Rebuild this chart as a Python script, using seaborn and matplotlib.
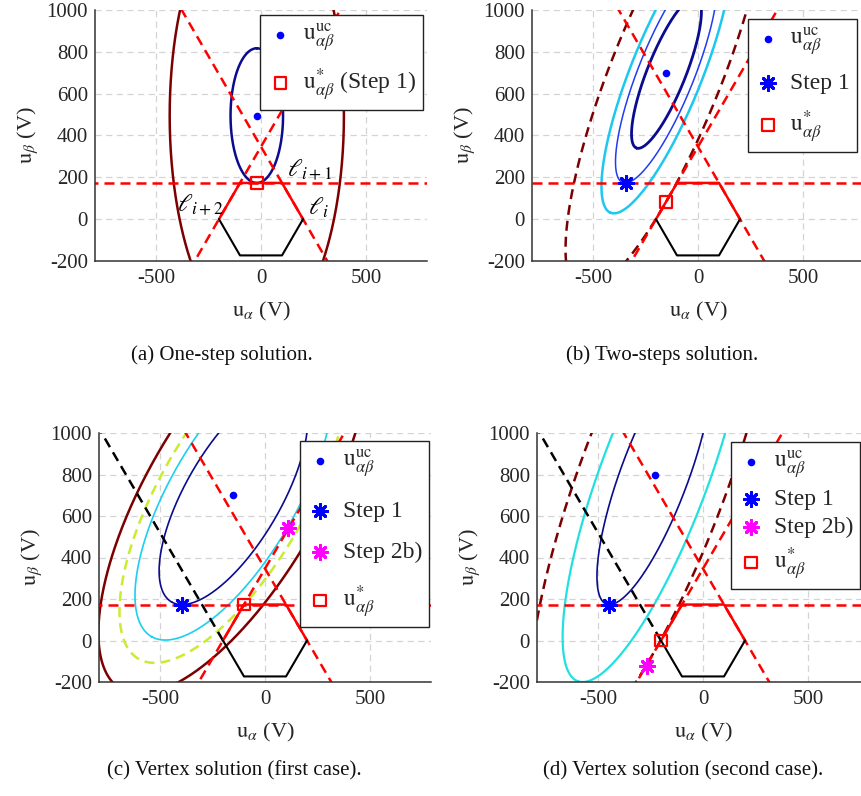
import numpy as np
import pandas as pd
import matplotlib
matplotlib.use("Agg")
import matplotlib.pyplot as plt
import seaborn as sns

sns.set_theme(style="white")
plt.rcParams.update({
    "font.family": ["Liberation Serif", "DejaVu Serif"],
    "mathtext.fontset": "stix",
    "axes.unicode_minus": False,
})

# ---------------- data ----------------
hex_radius = 200.0
hex_angles_deg = [0, 60, 120, 180, 240, 300]
x_limits = [-790, 790]
y_limits = [-200, 1000]
x_ticks = [-500, 0, 500]
y_ticks = [-200, 0, 200, 400, 600, 800, 1000]

# quadratic cost level sets: centre, [A, B, C] of (u-c)^T M (u-c), levels
a_center = [-20, 495]
a_quad = [1 / 125 ** 2, 0.0, 1 / 322 ** 2]
a_levels = [1.0, 11.0]
a_colors = ["#0b0b8f", "#7d0000"]
a_styles = ["-", "-"]
a_widths = [1.8, 1.8]

b_center = [-150, 700]
b_quad = [4.9e-5, -1.823e-5, 1.038e-5]
b_levels = [0.47, 1.0, 1.626, 3.92]
b_colors = ["#0b0b8f", "#1f3cf0", "#1cc8f0", "#7d0000"]
b_styles = ["-", "-", "-", "--"]
b_widths = [2.0, 1.1, 1.8, 1.8]

c_center = [-150, 700]
c_quad = [1.5328e-5, -7.126e-6, 6.914e-6]
c_levels = [1.0, 1.754, 2.35, 3.3]
c_colors = ["#0b0b8f", "#1ad0f0", "#c8ec30", "#7d0000"]
c_styles = ["-", "-", "--", "-"]
c_widths = [1.2, 1.2, 1.8, 1.8]

d_center = [-230, 800]
d_quad = [3.4227e-5, -1.1737e-5, 6.568e-6]
d_levels = [1.0, 2.544, 4.75]
d_colors = ["#0b0b8f", "#22e0e0", "#7d0000"]
d_styles = ["-", "-", "--"]
d_widths = [1.2, 1.6, 1.8]

# markers
uc_points = {"a": (-20, 493), "b": (-150, 700), "c": (-150, 700), "d": (-230, 800)}
step1_points = {"b": (-345, 173), "c": (-395, 173), "d": (-445, 173)}
step2b_points = {"c": (110, 540), "d": (-268, -122)}
opt_points = {"a": (-20, 173), "b": (-152, 83), "c": (-100, 173), "d": (-200, 0)}

uc_label = r"$\mathrm{u}^{\mathrm{uc}}_{\alpha\beta}$"
opt_label = r"$\mathrm{u}^{*}_{\alpha\beta}$"
opt_label_a = r"$\mathrm{u}^{*}_{\alpha\beta}$ (Step 1)"
step1_label = "Step 1"
step2b_label = "Step 2b)"

captions = {"a": "(a) One-step solution.", "b": "(b) Two-steps solution.",
            "c": "(c) Vertex solution (first case).",
            "d": "(d) Vertex solution (second case)."}
line_labels = [r"$\ell_{i+1}$", r"$\ell_{i}$", r"$\ell_{i+2}$"]
line_label_pos = [(233, 235), (273, 52), (-290, 68)]

# ---------------- layout ----------------
W, H = 861, 796
fig = plt.figure(figsize=(W / 100, H / 100), dpi=100)
ax_pos = {
    "a": [95 / W, 1 - 261 / H, 332 / W, 251 / H],
    "b": [532 / W, 1 - 261 / H, 332 / W, 251 / H],
    "c": [99 / W, 1 - 682 / H, 332 / W, 249 / H],
    "d": [537 / W, 1 - 682 / H, 332 / W, 249 / H],
}
caption_pos = {"a": (222, 355), "b": (662, 355), "c": (234, 771), "d": (683, 771)}
legend_anchor = {"a": (0.988, 0.98), "b": (0.979, 0.964), "c": (0.994, 0.968), "d": (0.973, 0.964)}
legend_spacing = {"a": 0.5, "b": 0.6, "c": 0.85, "d": 0.3}

RED = "#ff0000"
DASH = (0, (4, 2.4))

hex_x = [hex_radius * np.cos(np.deg2rad(t)) for t in hex_angles_deg]
hex_y = [hex_radius * np.sin(np.deg2rad(t)) for t in hex_angles_deg]
hv = list(zip(hex_x, hex_y))  # v0=(200,0), v1=(100,173), v2=(-100,173), v3=(-200,0), v4, v5


def draw_curve(ax, xs, ys, color, lw, ls, z=2):
    df = pd.DataFrame({"x": xs, "y": ys, "o": np.arange(len(xs))})
    sns.lineplot(data=df, x="x", y="y", sort=False, estimator=None, ax=ax,
                 color=color, lw=lw, linestyle=ls, zorder=z)


def ellipse(center, quad, level, n=720):
    A, B, C = quad
    M = np.array([[A, B], [B, C]])
    lam, V = np.linalg.eigh(M)
    t = np.linspace(0, 2 * np.pi, n)
    circ = np.vstack([np.cos(t), np.sin(t)])
    pts = V @ (np.sqrt(level / lam)[:, None] * circ)
    return pts[0] + center[0], pts[1] + center[1]


def ext_line(p, q, t0, t1):
    p = np.array(p); q = np.array(q)
    ts = np.array([t0, t1])
    pts = p[None, :] + ts[:, None] * (q - p)[None, :]
    return pts[:, 0], pts[:, 1]


def base_axes(key):
    ax = fig.add_axes(ax_pos[key])
    ax.set_xlim(*x_limits)
    ax.set_ylim(*y_limits)
    ax.set_xticks(x_ticks)
    ax.set_yticks(y_ticks)
    ax.set_xticklabels([str(v) for v in x_ticks])
    ax.set_yticklabels([str(v) for v in y_ticks])
    ax.grid(True, color="#d4d4d4", lw=0.9, linestyle=(0, (5, 3.5)))
    ax.set_axisbelow(True)
    for s in ["top", "right"]:
        ax.spines[s].set_visible(False)
    for s in ["left", "bottom"]:
        ax.spines[s].set_color("#333333")
        ax.spines[s].set_linewidth(1.1)
    ax.tick_params(direction="in", length=3, width=0.8, color="#333333",
                   labelsize=15, labelcolor="#262626")
    ax.tick_params(axis="x", pad=6)
    ax.tick_params(axis="y", pad=5)
    ax.set_xlabel(r"$\mathrm{u}_{\alpha}$ (V)", fontsize=16, color="#262626")
    ax.set_ylabel(r"$\mathrm{u}_{\beta}$ (V)", fontsize=16, color="#262626")
    ax.xaxis.set_label_coords(0.5, -0.155)
    ax.yaxis.set_label_coords(-0.165, 0.5)
    # hexagon
    draw_curve(ax, [hv[0][0], hv[1][0], hv[2][0], hv[3][0]],
               [hv[0][1], hv[1][1], hv[2][1], hv[3][1]], RED, 1.8, "-", z=3)
    draw_curve(ax, [hv[3][0], hv[4][0], hv[5][0], hv[0][0]],
               [hv[3][1], hv[4][1], hv[5][1], hv[0][1]], "black", 1.5, "-", z=3)
    # extended constraint lines
    for (p, q) in [(hv[0], hv[1]), (hv[1], hv[2]), (hv[2], hv[3])]:
        xs, ys = ext_line(p, q, -12, 12)
        draw_curve(ax, xs, ys, RED, 1.8, DASH, z=2.5)
    return ax


def draw_levels(ax, center, quad, levels, colors, styles, widths):
    for lv, c, s, w in zip(levels, colors, styles, widths):
        xs, ys = ellipse(center, quad, lv)
        draw_curve(ax, xs, ys, c, w, DASH if s == "--" else "-")


def mark(ax, pt, kind, label):
    if kind == "uc":
        sns.scatterplot(x=[pt[0]], y=[pt[1]], ax=ax, marker="o", s=30, color="#0000ff",
                        edgecolor="#0000ff", linewidth=0, label=label, zorder=6)
    elif kind == "s1":
        sns.scatterplot(x=[pt[0]], y=[pt[1]], ax=ax, marker=(8, 2, 0), s=100, color="#0000ff",
                        edgecolor="#0000ff", linewidth=2.2, label=label, zorder=6)
    elif kind == "s2":
        sns.scatterplot(x=[pt[0]], y=[pt[1]], ax=ax, marker=(8, 2, 0), s=100, color="#ff00ff",
                        edgecolor="#ff00ff", linewidth=2.2, label=label, zorder=6)
    else:
        sns.scatterplot(x=[pt[0]], y=[pt[1]], ax=ax, marker="s", s=70, facecolor="none",
                        edgecolor=RED, linewidth=1.6, label=label, zorder=6)


def finish_legend(ax, key):
    leg = ax.legend(loc="upper right", bbox_to_anchor=legend_anchor[key], borderaxespad=0,
                    fontsize=17, frameon=True, fancybox=False, edgecolor="#222222",
                    framealpha=1, handlelength=1.1, handletextpad=0.4,
                    labelspacing=legend_spacing[key], borderpad=0.3)
    leg.get_frame().set_linewidth(1.0)
    leg.set_zorder(10)


# ---- (a)
ax = base_axes("a")
draw_levels(ax, a_center, a_quad, a_levels, a_colors, a_styles, a_widths)
mark(ax, uc_points["a"], "uc", uc_label)
mark(ax, opt_points["a"], "opt", opt_label_a)
for txt, (lx, ly) in zip(line_labels, line_label_pos):
    ax.text(lx, ly, txt, fontsize=18, ha="center", va="center", color="black", zorder=7)
finish_legend(ax, "a")

# ---- (b)
ax = base_axes("b")
draw_levels(ax, b_center, b_quad, b_levels, b_colors, b_styles, b_widths)
mark(ax, uc_points["b"], "uc", uc_label)
mark(ax, step1_points["b"], "s1", step1_label)
mark(ax, opt_points["b"], "opt", opt_label)
finish_legend(ax, "b")

# ---- (c)
ax = base_axes("c")
draw_levels(ax, c_center, c_quad, c_levels, c_colors, c_styles, c_widths)
xs, ys = ext_line(hv[3], hv[4], 0, -12)
draw_curve(ax, xs, ys, "black", 1.8, DASH, z=2.6)
mark(ax, uc_points["c"], "uc", uc_label)
mark(ax, step1_points["c"], "s1", step1_label)
mark(ax, step2b_points["c"], "s2", step2b_label)
mark(ax, opt_points["c"], "opt", opt_label)
finish_legend(ax, "c")

# ---- (d)
ax = base_axes("d")
draw_levels(ax, d_center, d_quad, d_levels, d_colors, d_styles, d_widths)
xs, ys = ext_line(hv[3], hv[4], 0, -12)
draw_curve(ax, xs, ys, "black", 1.8, DASH, z=2.6)
mark(ax, uc_points["d"], "uc", uc_label)
mark(ax, step1_points["d"], "s1", step1_label)
mark(ax, step2b_points["d"], "s2", step2b_label)
mark(ax, opt_points["d"], "opt", opt_label)
finish_legend(ax, "d")

for k, (cx, cy) in caption_pos.items():
    fig.text(cx / W, 1 - cy / H, captions[k], ha="center", va="center", fontsize=15,
             color="#111111")

fig.savefig("out.png", dpi=100)
